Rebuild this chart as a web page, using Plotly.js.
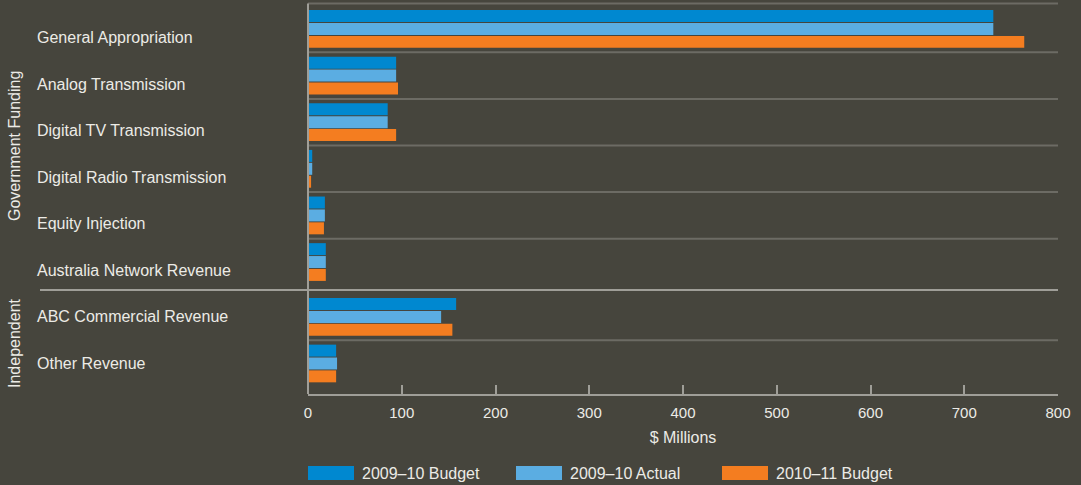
<!DOCTYPE html>
<html>
<head>
<meta charset="utf-8">
<script src="https://cdn.plot.ly/plotly-3.0.1.min.js"></script>
<style>html,body{margin:0;padding:0;background:#46453d;}#chart{width:1081px;height:485px;}</style>
</head>
<body>
<div id="chart"></div>
<script>
// ---- data ----
const govCategories = ["General Appropriation","Analog Transmission","Digital TV Transmission","Digital Radio Transmission","Equity Injection","Australia Network Revenue"];
const indCategories = ["ABC Commercial Revenue","Other Revenue"];
const groupNames = ["Government Funding","Independent"];
const seriesNames = ["2009\u201310 Budget","2009\u201310 Actual","2010\u201311 Budget"];
const govBudget0910 = [731, 94, 85, 4.5, 18, 19];
const govActual0910 = [731, 94, 85, 4.5, 18, 19];
const govBudget1011 = [764, 96, 94, 3.3, 17, 19];
const indBudget0910 = [158, 30];
const indActual0910 = [142, 31];
const indBudget1011 = [154, 30];
const xTicks = [0,100,200,300,400,500,600,700,800];

// ---- style ----
const colors = ["#0088d0","#5badE2","#f47d20"];
const bg = "#46453d";
const textColor = "#ecebe6";
const font = "Liberation Sans, Arial, sans-serif";
const W = 1081, H = 485;
const L = 308, R = 1058, T = 4, B = 394;
const px = x => (x - L) / (R - L);
const py = y => (B - y) / (B - T);
const split = py(290);

const govSeries = [govBudget0910, govActual0910, govBudget1011];
const indSeries = [indBudget0910, indActual0910, indBudget1011];

const traces = [];
seriesNames.forEach((name, i) => {
  traces.push({type:"bar", orientation:"h", name:name, x:govSeries[i], y:govCategories,
    xaxis:"x", yaxis:"y", marker:{color:colors[i]}, showlegend:false, hoverinfo:"x+y"});
});
seriesNames.forEach((name, i) => {
  traces.push({type:"bar", orientation:"h", name:name, x:indSeries[i], y:indCategories,
    xaxis:"x", yaxis:"y2", marker:{color:colors[i]}, showlegend:false, hoverinfo:"x+y"});
});

const sepColor = "#6c6b64";
const shapes = [];
shapes.push({type:"line", xref:"paper", yref:"paper", x0:0, x1:1, y0:py(3.5), y1:py(3.5), line:{color:sepColor, width:2}});
for (let i = 0; i < govCategories.length - 1; i++) {
  shapes.push({type:"line", xref:"paper", yref:"y", x0:0, x1:1, y0:i+0.5, y1:i+0.5, line:{color:sepColor, width:2}});
}
for (let i = 0; i < indCategories.length - 1; i++) {
  shapes.push({type:"line", xref:"paper", yref:"y2", x0:0, x1:1, y0:i+0.5, y1:i+0.5, line:{color:sepColor, width:2}});
}
shapes.push({type:"line", xref:"paper", yref:"paper", x0:px(40), x1:1, y0:split, y1:split, line:{color:"#9f9e98", width:2}});
shapes.push({type:"line", xref:"paper", yref:"paper", x0:0, x1:0, y0:0, y1:py(3.5), line:{color:"#9f9e98", width:2}});

const annotations = [];
govCategories.forEach((c) => {
  annotations.push({xref:"paper", yref:"y", x:px(35), y:c, text:c, showarrow:false, xanchor:"left", yanchor:"middle", yshift:-8.5,
    font:{family:font, size:16, color:textColor}});
});
indCategories.forEach((c) => {
  annotations.push({xref:"paper", yref:"y2", x:px(35), y:c, text:c, showarrow:false, xanchor:"left", yanchor:"middle", yshift:0,
    font:{family:font, size:16, color:textColor}});
});
annotations.push({xref:"paper", yref:"paper", x:px(14), y:py(146), text:groupNames[0], textangle:-90, showarrow:false,
  xanchor:"center", yanchor:"middle", font:{family:font, size:16, color:textColor}});
annotations.push({xref:"paper", yref:"paper", x:px(14), y:py(343), text:groupNames[1], textangle:-90, showarrow:false,
  xanchor:"center", yanchor:"middle", font:{family:font, size:16, color:textColor}});

const legendX = [308, 516, 722];
seriesNames.forEach((name, i) => {
  shapes.push({type:"rect", xref:"paper", yref:"paper", x0:px(legendX[i]), x1:px(legendX[i]+46), y0:py(466), y1:py(480),
    fillcolor:colors[i], line:{width:0}});
  annotations.push({xref:"paper", yref:"paper", x:px(legendX[i]+52), y:py(473), text:name, showarrow:false,
    xanchor:"left", yanchor:"middle", font:{family:font, size:16, color:textColor}});
});

const layout = {
  width:W, height:H,
  paper_bgcolor:bg, plot_bgcolor:bg,
  margin:{l:L, r:W-R, t:T, b:H-B, pad:0},
  barmode:"group", bargap:0.17, bargroupgap:0.07,
  showlegend:false,
  font:{family:font, size:15, color:textColor},
  xaxis:{anchor:"y2", range:[0,800], tickvals:xTicks, ticktext:xTicks.map(String),
    ticks:"inside", ticklen:9, tickwidth:2, tickcolor:"#9f9e98",
    showline:true, linecolor:"#9f9e98", linewidth:2, showgrid:false, zeroline:false,
    ticklabelstandoff:4,
    tickfont:{family:font, size:15, color:textColor},
    title:{text:"$ Millions", font:{family:font, size:16, color:textColor}, standoff:12}},
  yaxis:{domain:[split,1], range:[5.6,-0.536], type:"category", showticklabels:false, ticks:"",
    showgrid:false, zeroline:false, showline:false},
  yaxis2:{domain:[0,split], range:[1.656,-0.58], type:"category", showticklabels:false, ticks:"",
    showgrid:false, zeroline:false, showline:false},
  shapes:shapes, annotations:annotations
};

Plotly.newPlot("chart", traces, layout, {displayModeBar:false, staticPlot:true});
</script>
</body>
</html>
